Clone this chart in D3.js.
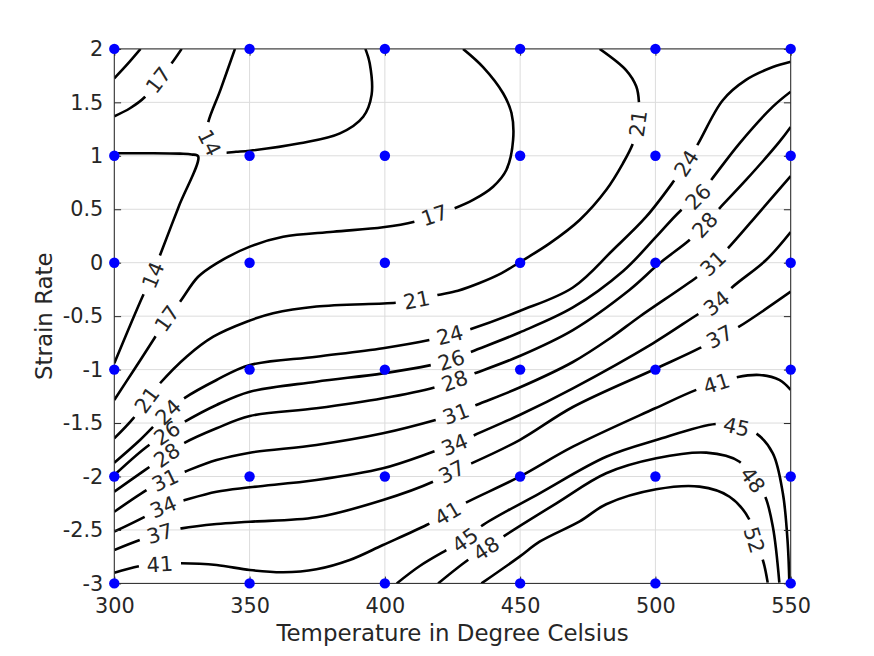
<!DOCTYPE html>
<html><head><meta charset="utf-8">
<script src="https://cdn.jsdelivr.net/npm/d3@7"></script>
<style>body{margin:0;background:#fff}</style>
</head><body>
<svg id="chart" width="874" height="656"></svg>
<script>
// ---- data ----
const temperatures = [300, 350, 400, 450, 500, 550];
const strainRates = [-3, -2, -1, 0, 1, 2];
const xTicks = [300, 350, 400, 450, 500, 550];
const yTicks = [-3, -2.5, -2, -1.5, -1, -0.5, 0, 0.5, 1, 1.5, 2];

// contour lines: [temperature, strain rate]
const c17corner = [[300,1.725],[304.6,1.85],[309.7,2.0]];
const c17a = [[300,1.37],[305.8,1.445],[311.3,1.55],[316.2,1.71],[321.2,1.865],[324.9,2.0]];
const c14a = [[344.6,2.0],[339.4,1.628],[334.3,1.257],[335.3,1.117],[337.8,1.048],[340.3,1.029],[345,1.038],[350.1,1.048],[368.6,1.117],[383.4,1.21],[392.0,1.366],[395.1,1.57],[394.4,1.865],[392.8,2.0]];
const c14b = [[300,1.024],[313.2,1.024],[324.3,1.02],[328.6,1.013],[331.0,0.995],[323.8,0.524],[316.6,0.05],[314.3,-0.115],[310.7,-0.302],[300,-0.941]];
const c17b = [[300,-1.284],[307.0,-1.013],[314.4,-0.723],[319.4,-0.52],[324.3,-0.365],[330.9,-0.134],[337.8,-0.006],[350.1,0.15],[362.4,0.243],[380.9,0.29],[399.3,0.331],[411.0,0.384],[418.4,0.446],[425.8,0.509],[432.6,0.587],[440.0,0.711],[444.9,0.867],[447.4,1.148],[446.8,1.40],[443.7,1.585],[436.3,1.83],[428.9,2.0]];
const c21 = [[300,-1.643],[307.0,-1.456],[312.0,-1.284],[316.9,-1.128],[326.7,-0.879],[336.6,-0.692],[348.9,-0.552],[358.7,-0.473],[374.7,-0.41],[404.3,-0.374],[411.7,-0.349],[419.5,-0.302],[427,-0.262],[435,-0.19],[443,-0.1],[449.8,0.004],[460.9,0.181],[472.0,0.40],[481.8,0.68],[488.0,0.93],[491.7,1.117],[493.5,1.30],[493.9,1.506],[492.9,1.65],[489.2,1.80],[479.4,2.0]];
const c24 = [[300,-1.871],[309.5,-1.659],[319.8,-1.396],[324.9,-1.284],[337.8,-1.097],[350.1,-0.957],[374.7,-0.879],[399.3,-0.80],[416.6,-0.723],[424.0,-0.676],[431.4,-0.623],[449.8,-0.452],[469.5,-0.232],[484.3,0.119],[496.6,0.43],[507.1,0.774],[511.4,0.93],[515.7,1.11],[524.9,1.52],[533.5,1.71],[543.4,1.83],[550,1.88]];
const c26 = [[300,-1.986],[311.3,-1.735],[319.4,-1.593],[325.5,-1.495],[337.8,-1.331],[350.1,-1.207],[374.7,-1.113],[399.3,-1.035],[417.2,-0.957],[424.6,-0.91],[432.0,-0.833],[449.8,-0.653],[469.5,-0.419],[488.0,-0.08],[500.3,0.243],[508.9,0.477],[515.7,0.617],[520.6,0.774],[531.1,1.117],[543.4,1.46],[550,1.60]];
const c28 = [[300,-2.142],[311.3,-1.94],[319.4,-1.80],[326.1,-1.684],[337.8,-1.549],[350.1,-1.434],[374.7,-1.362],[399.3,-1.268],[418.4,-1.166],[425.8,-1.104],[433.2,-1.035],[449.8,-0.873],[469.5,-0.63],[490.4,-0.255],[501.5,-0.006],[512.6,0.212],[518.2,0.353],[523.7,0.509],[533.5,0.774],[545.8,1.13],[550,1.27]];
const c31 = [[300,-2.33],[312.0,-2.126],[318.7,-2.033],[326.1,-1.955],[337.8,-1.846],[350.1,-1.777],[374.7,-1.705],[399.3,-1.596],[418.4,-1.474],[426.2,-1.413],[433.8,-1.331],[449.8,-1.168],[469.5,-0.929],[483.4,-0.704],[494.1,-0.505],[516.3,-0.115],[521.2,-0.006],[526.8,0.135],[538.5,0.474],[550,0.811]];
const c34 = [[300,-2.516],[311.3,-2.376],[318.1,-2.283],[326.1,-2.22],[337.8,-2.142],[350.1,-2.101],[374.7,-2.033],[399.3,-1.923],[418.4,-1.764],[425.8,-1.70],[433.2,-1.612],[449.8,-1.425],[469.5,-1.175],[499.1,-0.754],[516.3,-0.473],[522.5,-0.38],[528.6,-0.225],[540.9,0.025],[550,0.287]];
const c37 = [[300,-2.688],[309.5,-2.594],[316.9,-2.531],[324.9,-2.485],[337.8,-2.444],[350.1,-2.423],[374.7,-2.382],[399.3,-2.22],[417.8,-2.049],[424.6,-1.955],[432.0,-1.877],[449.8,-1.659],[469.5,-1.35],[499.9,-0.994],[516.3,-0.80],[523.7,-0.692],[529.9,-0.614],[550,-0.271]];
const c41 = [[300,-2.90],[309.5,-2.837],[316.9,-2.819],[324.3,-2.812],[337.8,-2.828],[350.1,-2.875],[362.4,-2.896],[374.7,-2.868],[387.0,-2.781],[399.3,-2.641],[415.4,-2.454],[423.3,-2.344],[429.5,-2.251],[449.8,-2.002],[469.5,-1.721],[499.9,-1.362],[515.1,-1.19],[522.5,-1.128],[529.9,-1.072],[538.5,-1.05],[545.8,-1.097],[550,-1.19]];
const c45 = [[404.4,-3.0],[412.9,-2.837],[422.8,-2.688],[429.5,-2.594],[435.7,-2.463],[457.2,-2.157],[481.8,-1.815],[500.3,-1.659],[522.5,-1.509],[529.9,-1.534],[537.2,-1.596],[543.4,-1.783],[547.1,-2.157],[548.9,-2.625],[549.5,-3.0]];
const c48 = [[419.7,-3.0],[430.7,-2.781],[437.5,-2.672],[443.7,-2.563],[463.4,-2.251],[481.8,-1.97],[500.3,-1.83],[518.8,-1.777],[531.1,-1.862],[536.0,-2.033],[540.3,-2.173],[543.4,-2.47],[545.8,-2.993]];
const c52 = [[435.7,-3.0],[449.8,-2.75],[457.2,-2.61],[472.0,-2.42],[481.8,-2.26],[500.3,-2.12],[516.3,-2.095],[527.4,-2.189],[534.8,-2.407],[536.6,-2.594],[539.7,-2.781],[541.5,-2.993]];

const lineNames  = ['c17corner','c17a','c14a','c14b','c17b','c21','c24','c26','c28','c31','c34','c37','c41','c45','c48','c52'];
const lineLevels = [17, 17, 14, 14, 17, 21, 24, 26, 28, 31, 34, 37, 41, 45, 48, 52];
const linePoints = [c17corner,c17a,c14a,c14b,c17b,c21,c24,c26,c28,c31,c34,c37,c41,c45,c48,c52];

// label anchors: [line, temperature, strain rate]
const contourLabels = [
  ['c17a',316.2,1.71],['c14a',334.7,1.117],['c14b',314.3,-0.115],
  ['c17b',319.4,-0.52],['c17b',418.4,0.446],
  ['c21',312.0,-1.284],['c21',411.7,-0.349],['c21',493.5,1.30],
  ['c24',319.8,-1.396],['c24',424.0,-0.676],['c24',511.4,0.93],
  ['c26',319.4,-1.593],['c26',424.6,-0.91],['c26',515.7,0.617],
  ['c28',319.4,-1.80],['c28',425.8,-1.104],['c28',518.2,0.353],
  ['c31',318.7,-2.033],['c31',426.2,-1.413],['c31',521.2,-0.006],
  ['c34',318.1,-2.283],['c34',425.8,-1.70],['c34',522.5,-0.38],
  ['c37',316.9,-2.531],['c37',424.6,-1.955],['c37',523.7,-0.692],
  ['c41',316.9,-2.819],['c41',423.3,-2.344],['c41',522.5,-1.128],
  ['c45',429.5,-2.594],['c45',529.9,-1.534],
  ['c48',437.5,-2.672],['c48',536.0,-2.033],
  ['c52',536.6,-2.594]
];

// ---- drawing ----
const svg = d3.select('#chart');
const L = 114.3, R = 790.7, T = 48.9, B = 583.4;
const x = d3.scaleLinear().domain([300, 550]).range([L, R]);
const y = d3.scaleLinear().domain([-3, 2]).range([B, T]);
const ink = '#262626';
const font = 'DejaVu Sans, sans-serif';

svg.append('rect').attr('width', 874).attr('height', 656).attr('fill', '#fff');
svg.append('defs').append('clipPath').attr('id', 'plotclip')
  .append('rect').attr('x', L).attr('y', T).attr('width', R - L).attr('height', B - T);

// grid
const grid = svg.append('g').attr('stroke', '#dcdcdc').attr('stroke-width', 1);
grid.selectAll('.gx').data(xTicks).join('line')
  .attr('x1', d => x(d)).attr('x2', d => x(d)).attr('y1', T).attr('y2', B);
grid.selectAll('.gy').data(yTicks).join('line')
  .attr('y1', d => y(d)).attr('y2', d => y(d)).attr('x1', L).attr('x2', R);

// contours
const lineGen = d3.line().x(d => x(d[0])).y(d => y(d[1])).curve(d3.curveCatmullRom.alpha(0.5));
const gLines = svg.append('g').attr('clip-path', 'url(#plotclip)');
const gLabels = svg.append('g').attr('font-family', font).attr('font-size', 20.8).attr('fill', ink);

lineNames.forEach((name, i) => {
  const p = gLines.append('path').attr('d', lineGen(linePoints[i]))
    .attr('fill', 'none').attr('stroke', '#000').attr('stroke-width', 2.6)
    .attr('stroke-linejoin', 'round');
  const node = p.node();
  const len = node.getTotalLength();
  const samples = [];
  for (let s = 0; s <= len; s += 0.5) { const pt = node.getPointAtLength(s); samples.push([s, pt.x, pt.y]); }
  const gaps = [];
  contourLabels.filter(l => l[0] === name).forEach(l => {
    const px = x(l[1]), py = y(l[2]);
    let best = samples[0], bd = Infinity;
    for (const sm of samples) { const d = (sm[1]-px)**2 + (sm[2]-py)**2; if (d < bd) { bd = d; best = sm; } }
    const s0 = best[0];
    const a = node.getPointAtLength(Math.max(0, s0 - 7)), b = node.getPointAtLength(Math.min(len, s0 + 7));
    let ang = Math.atan2(b.y - a.y, b.x - a.x) * 180 / Math.PI;
    if (ang > 90) ang -= 180; if (ang <= -90) ang += 180;
    const t = gLabels.append('text')
      .attr('transform', `translate(${best[1]},${best[2]}) rotate(${ang})`)
      .attr('text-anchor', 'middle').attr('dy', '0.36em').text(lineLevels[i]);
    const w = t.node().getComputedTextLength();
    gaps.push([s0 - w / 2 - 8, s0 + w / 2 + 8]);
  });
  if (gaps.length) {
    gaps.sort((g1, g2) => g1[0] - g2[0]);
    const arr = []; let pos = 0;
    gaps.forEach(g => { const s = Math.max(g[0], pos), e = Math.min(g[1], len); arr.push(Math.max(s - pos, 0), Math.max(e - s, 0)); pos = e; });
    arr.push(len - pos + 2, 0);
    p.attr('stroke-dasharray', arr.join(' '));
  }
});

// axes
const tick = 6.8;
const ax = svg.append('g').attr('font-family', font).attr('font-size', 20.8);
const xAxis = ax.append('g').attr('transform', `translate(0,${B})`)
  .call(d3.axisBottom(x).tickValues(xTicks).tickSizeInner(-tick).tickSizeOuter(0).tickPadding(15).tickFormat(d3.format('d')));
const yAxis = ax.append('g').attr('transform', `translate(${L},0)`)
  .call(d3.axisLeft(y).tickValues(yTicks).tickSizeInner(-tick).tickSizeOuter(0).tickPadding(11).tickFormat(d => String(d)));
const xTop = ax.append('g').attr('transform', `translate(0,${T})`)
  .call(d3.axisTop(x).tickValues(xTicks).tickSizeInner(-tick).tickSizeOuter(0).tickFormat(''));
const yRight = ax.append('g').attr('transform', `translate(${R},0)`)
  .call(d3.axisRight(y).tickValues(yTicks).tickSizeInner(-tick).tickSizeOuter(0).tickFormat(''));
[xAxis, yAxis, xTop, yRight].forEach(g => {
  g.select('.domain').remove();
  g.selectAll('line').attr('stroke', ink);
  g.selectAll('text').attr('fill', ink).attr('font-family', font).attr('font-size', 20.8);
});
xAxis.selectAll('text').attr('dy', '0.71em');
svg.append('rect').attr('x', L).attr('y', T).attr('width', R - L).attr('height', B - T)
  .attr('fill', 'none').attr('stroke', ink).attr('stroke-width', 1);

// axis titles
svg.append('text').attr('x', (L + R) / 2).attr('y', 641).attr('text-anchor', 'middle')
  .attr('font-family', font).attr('font-size', 22.9).attr('fill', ink)
  .text('Temperature in Degree Celsius');
svg.append('text').attr('transform', `translate(52,${(T + B) / 2}) rotate(-90)`).attr('text-anchor', 'middle')
  .attr('font-family', font).attr('font-size', 22.9).attr('fill', ink)
  .text('Strain Rate');

// sample points
const pts = [];
temperatures.forEach(tv => strainRates.forEach(sr => pts.push([tv, sr])));
svg.append('g').selectAll('circle').data(pts).join('circle')
  .attr('cx', d => x(d[0])).attr('cy', d => y(d[1])).attr('r', 5.2).attr('fill', '#0000ff');
</script>
</body></html>
